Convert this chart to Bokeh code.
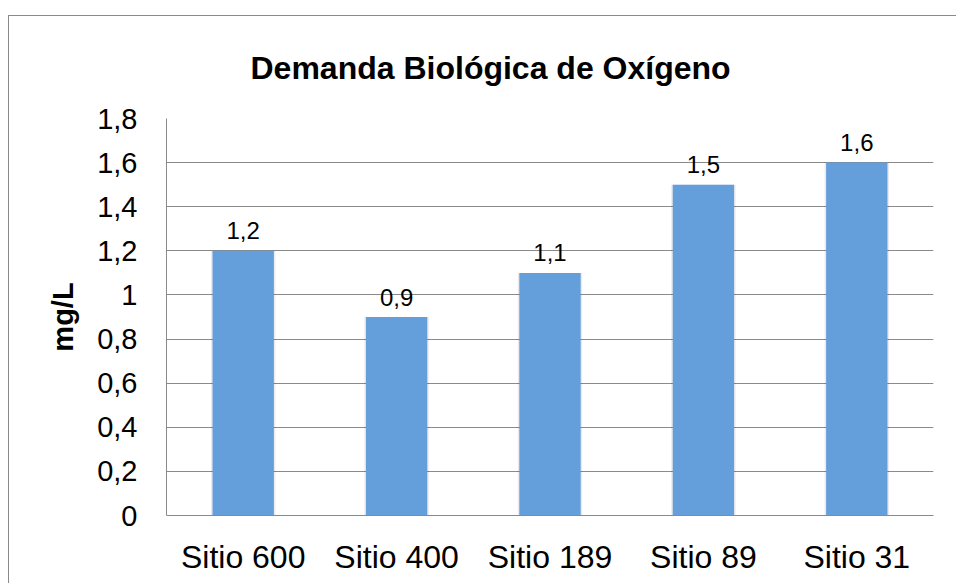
from bokeh.plotting import figure
from bokeh.models import Range1d, FactorRange, FixedTicker, ColumnDataSource
from bokeh.core.properties import value
from bokeh.embed import file_html
from bokeh.resources import INLINE

categories = ["Sitio 600", "Sitio 400", "Sitio 189", "Sitio 89", "Sitio 31"]
dbo = [1.2, 0.9, 1.1, 1.5, 1.6]
dbo_labels = ["1,2", "0,9", "1,1", "1,5", "1,6"]
y_ticks = [0, 0.2, 0.4, 0.6, 0.8, 1.0, 1.2, 1.4, 1.6, 1.8]
y_tick_labels = ["0", "0,2", "0,4", "0,6", "0,8", "1", "1,2", "1,4", "1,6", "1,8"]
title_text = "Demanda Biológica de Oxígeno"
y_label = "mg/L"

FONT = "Liberation Sans"
GRID = "#8a8a8a"
BAR = "#649edb"

# figure placed at (9,16) via CSS margin + 1px border (outer chart frame)
OX, OY = 9, 16
W, H = 957 - OX, 584 - OY
FL, FT, FR, FB = 166 - OX, 118 - OY, 933 - OX, 515 - OY
p = figure(width=W, height=H, output_backend="svg", toolbar_location=None,
           x_range=FactorRange(*categories, range_padding=0),
           y_range=Range1d(0, 1.8),
           min_border_left=FL, min_border_top=FT,
           min_border_right=W - FR, min_border_bottom=H - FB)
p.styles = {"border-top": "1px solid " + GRID, "border-left": "1px solid " + GRID,
            "margin-left": "8px", "margin-top": "15px"}
p.outline_line_color = None
p.background_fill_color = "white"
p.border_fill_color = "white"

src = ColumnDataSource(dict(cat=categories, val=dbo, lab=dbo_labels))
p.vbar(x="cat", top="val", width=0.42, source=src, fill_color="#000000",
       fill_alpha=0.08, line_color=None)
p.vbar(x="cat", top="val", width=0.4, source=src, fill_color=BAR, line_color=None)
p.text(x="cat", y="val", text="lab", source=src, y_offset=-20,
       text_align="center", text_baseline="alphabetic",
       text_font=value(FONT), text_font_size="24px", text_color="black")

p.xgrid.grid_line_color = None
p.ygrid.grid_line_color = GRID
p.ygrid.grid_line_width = 1

p.yaxis.ticker = FixedTicker(ticks=y_ticks)
p.yaxis.major_label_overrides = {t: l for t, l in zip(y_ticks, y_tick_labels)}
for ax in (p.xaxis, p.yaxis):
    ax.axis_line_color = GRID
    ax.axis_line_width = 1
    ax.major_tick_line_color = None
    ax.minor_tick_line_color = None
    ax.major_tick_out = 0
    ax.major_tick_in = 0
    ax.major_label_text_font = FONT
    ax.major_label_text_color = "black"
p.yaxis.major_label_text_font_size = "29px"
p.xaxis.major_label_text_font_size = "32px"
p.yaxis.major_label_standoff = 29
p.xaxis.major_label_standoff = 23

p.yaxis.axis_label = y_label
p.yaxis.axis_label_text_font = FONT
p.yaxis.axis_label_text_font_style = "bold"
p.yaxis.axis_label_text_font_size = "29px"
p.yaxis.axis_label_text_color = "black"
p.yaxis.axis_label_standoff = 15

p.title.text = title_text
p.title.text_font = FONT
p.title.text_font_size = "32px"
p.title.text_font_style = "bold"
p.title.text_color = "black"
p.title.align = "left"
p.title.vertical_align = "top"
p.title.offset = 250 - 166
p.title.standoff = 62

open("out.html", "w").write(file_html(p, INLINE))
